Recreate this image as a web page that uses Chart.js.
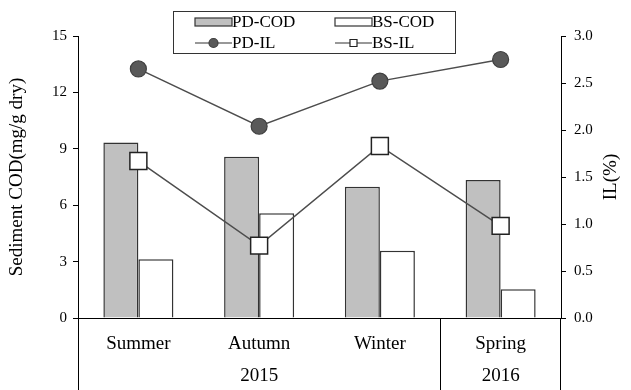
<!DOCTYPE html>
<html>
<head>
<meta charset="utf-8">
<script src="https://cdn.jsdelivr.net/npm/chart.js"></script>
<style>
  html, body { margin: 0; padding: 0; background: #fff; }
  canvas { display: block; }
</style>
</head>
<body>
<canvas id="chart" width="631" height="390"></canvas>
<script>
const seasons = ['Summer', 'Autumn', 'Winter', 'Spring'];
const pdCod = [9.33, 8.58, 6.98, 7.34];
const bsCod = [3.12, 5.57, 3.58, 1.53];
const pdIl = [2.65, 2.04, 2.52, 2.75];
const bsIl = [1.67, 0.77, 1.83, 0.98];
const years = [{ label: '2015', from: 0, to: 2 }, { label: '2016', from: 3, to: 3 }];

const serif = '"Liberation Serif", "Times New Roman", serif';

// draws the framed legend, the year row, the right title and the lines below the x axis
const extras = {
  id: 'extras',
  afterDraw(chart) {
    const ctx = chart.ctx;
    const area = chart.chartArea;
    const x = chart.scales.x;
    const half = (x.getPixelForValue(1) - x.getPixelForValue(0)) / 2;
    const bottom = chart.height;

    ctx.save();
    ctx.strokeStyle = '#000';
    ctx.lineWidth = 1;
    ctx.beginPath();
    ctx.moveTo(area.left + 0.5, area.bottom);
    ctx.lineTo(area.left + 0.5, bottom);
    ctx.moveTo(area.right - 0.5, area.bottom);
    ctx.lineTo(area.right - 0.5, bottom);
    const sep = Math.round(x.getPixelForValue(2) + half) + 0.5;
    ctx.moveTo(sep, area.bottom);
    ctx.lineTo(sep, bottom);
    ctx.stroke();

    ctx.fillStyle = '#000';
    ctx.font = '19px ' + serif;
    ctx.textAlign = 'center';
    ctx.textBaseline = 'middle';
    years.forEach(y => {
      const l = y.from === 0 ? area.left : x.getPixelForValue(y.from) - half;
      const r = y.to === seasons.length - 1 ? area.right : x.getPixelForValue(y.to) + half;
      ctx.fillText(y.label, (l + r) / 2, 376);
    });

    // right axis title, read bottom to top like the left one
    ctx.save();
    ctx.translate(611, (area.top + area.bottom) / 2);
    ctx.rotate(-Math.PI / 2);
    ctx.fillText('IL(%)', 0, 0);
    ctx.restore();

    // legend
    ctx.strokeStyle = '#333';
    ctx.strokeRect(173.5, 11.5, 282, 42);
    ctx.textAlign = 'left';
    const items = chart.data.datasets;
    const cols = [195, 335];
    const rows = [22, 43];
    items.forEach((ds, i) => {
      const cx = cols[i % 2];
      const cy = rows[Math.floor(i / 2)];
      if (ds.type === 'bar') {
        ctx.fillStyle = ds.backgroundColor;
        ctx.fillRect(cx, cy - 4, 37, 8);
        ctx.lineWidth = 1.2;
        ctx.strokeStyle = '#333';
        ctx.strokeRect(cx, cy - 4, 37, 8);
      } else {
        ctx.lineWidth = 1.2;
        ctx.strokeStyle = '#333';
        ctx.beginPath();
        ctx.moveTo(cx, cy);
        ctx.lineTo(cx + 37, cy);
        ctx.stroke();
        ctx.fillStyle = ds.pointBackgroundColor;
        ctx.beginPath();
        if (ds.pointStyle === 'circle') {
          ctx.arc(cx + 18.5, cy, 4.5, 0, Math.PI * 2);
        } else {
          ctx.rect(cx + 15, cy - 3.5, 7, 7);
        }
        ctx.fill();
        ctx.strokeStyle = ds.pointBorderColor;
        ctx.stroke();
      }
      ctx.fillStyle = '#000';
      ctx.font = '17px ' + serif;
      ctx.fillText(ds.label, cx + 37, cy + 1);
    });
    ctx.restore();
  }
};

new Chart(document.getElementById('chart'), {
  data: {
    labels: seasons,
    datasets: [
      {
        type: 'bar', label: 'PD-COD', data: pdCod, yAxisID: 'y',
        backgroundColor: '#c0c0c0', borderColor: '#333', borderWidth: 1.5,
        categoryPercentage: 0.58, barPercentage: 1, order: 2
      },
      {
        type: 'bar', label: 'BS-COD', data: bsCod, yAxisID: 'y',
        backgroundColor: '#ffffff', borderColor: '#333', borderWidth: 1.5,
        categoryPercentage: 0.58, barPercentage: 1, order: 2
      },
      {
        type: 'line', label: 'PD-IL', data: pdIl, yAxisID: 'y1',
        borderColor: '#4d4d4d', borderWidth: 1.5,
        pointStyle: 'circle', pointRadius: 8,
        pointBackgroundColor: '#595959', pointBorderColor: '#404040', pointBorderWidth: 1.2,
        order: 1
      },
      {
        type: 'line', label: 'BS-IL', data: bsIl, yAxisID: 'y1',
        borderColor: '#4d4d4d', borderWidth: 1.5,
        pointStyle: 'rect', pointRadius: 12,
        pointBackgroundColor: '#ffffff', pointBorderColor: '#222', pointBorderWidth: 1.5,
        order: 0
      }
    ]
  },
  options: {
    responsive: false,
    animation: false,
    layout: { padding: { top: 36, left: 0, right: 0, bottom: 0 } },
    plugins: { legend: { display: false }, tooltip: { enabled: false } },
    scales: {
      x: {
        grid: { display: false },
        border: { display: true, color: '#000', width: 1 },
        ticks: { color: '#000', font: { family: serif, size: 19 }, padding: 7 },
        afterFit(s) { s.height = 72; }
      },
      y: {
        position: 'left', min: 0, max: 15,
        ticks: { stepSize: 3, color: '#000', font: { family: serif, size: 15 }, padding: 6 },
        grid: { drawOnChartArea: false, drawTicks: true, tickLength: 5, color: '#000' },
        border: { display: true, color: '#000', width: 1 },
        title: { display: true, text: 'Sediment COD(mg/g dry)', color: '#000', font: { family: serif, size: 19 }, padding: { top: 6, bottom: 6 } },
        afterFit(s) { s.width = 78; }
      },
      y1: {
        position: 'right', min: 0, max: 3,
        ticks: { stepSize: 0.5, color: '#000', font: { family: serif, size: 15 }, padding: 8,
          callback: v => v.toFixed(1) },
        grid: { drawOnChartArea: false, drawTicks: true, tickLength: 5, color: '#000' },
        border: { display: true, color: '#000', width: 1 },
        afterFit(s) { s.width = 70; }
      }
    }
  },
  plugins: [extras]
});
</script>
</body>
</html>
